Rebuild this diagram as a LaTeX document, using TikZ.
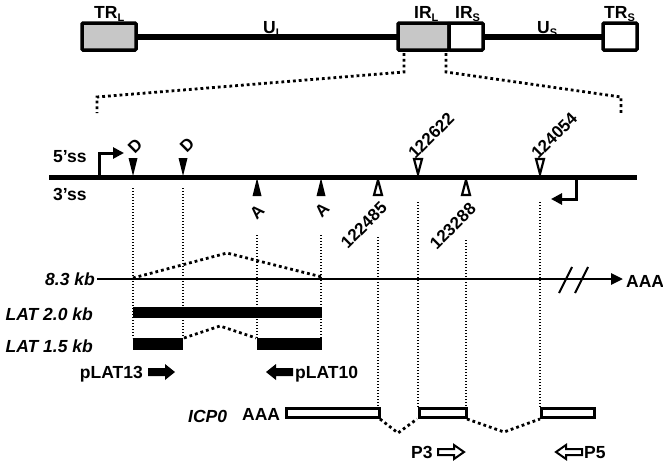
\documentclass[tikz,border=0pt]{standalone}
\usepackage{fontspec}
\setmainfont{Liberation Sans}
\usetikzlibrary{arrows.meta}
\newcommand{\sbl}[1]{\raisebox{-3.5pt}{\fontsize{11}{11}\selectfont #1}}
\begin{document}
\begin{tikzpicture}[x=1pt,y=-1pt,
  lbl/.style={font=\fontsize{17.5}{19}\selectfont\bfseries, inner sep=0pt},
  ilbl/.style={font=\fontsize{17.5}{19}\selectfont\bfseries\itshape, inner sep=0pt},
  rlbl/.style={font=\fontsize{17}{19}\selectfont\bfseries, inner sep=0pt, rotate=45},
  gbox/.style={draw=black, line width=3.5pt, rounded corners=1pt},
  fineDot/.style={line width=1.4pt, dash pattern=on 1.4pt off 1.6pt},
  splice/.style={line width=2.8pt, dash pattern=on 2.8pt off 3pt},
  bracketDot/.style={line width=2.8pt, dash pattern=on 2.8pt off 3pt},
  exonbox/.style={draw=black, fill=white, line width=3pt},
  ftri/.style={fill=black},
  otri/.style={draw=black, fill=white, line width=2.2pt, line join=miter},
  blockArrow/.style={fill=black},
  openArrow/.style={draw=black, fill=white, line width=2pt, line join=miter}]
\useasboundingbox (0,0) rectangle (663,463);

% ---- genome overview ----
\coordinate (ulA) at (136,37);
\coordinate (ulB) at (398,37);
\coordinate (usA) at (483,37);
\coordinate (usB) at (603,37);
\draw[line width=5.5pt] (ulA) -- (ulB);
\draw[line width=5.5pt] (usA) -- (usB);
\draw[gbox, fill=black!22] (82,23) rectangle (136,50);
\draw[gbox, fill=black!22] (398,23) rectangle (449,50);
\draw[gbox, fill=white] (449,23) rectangle (483,50);
\draw[gbox, fill=white] (603,23) rectangle (637,50);
\node[lbl, anchor=base west] (trl) at (94,18) {TR\sbl{L}};
\node[lbl, anchor=base west] (ul) at (263,33) {U\sbl{L}};
\node[lbl, anchor=base west] (irl) at (414,18) {IR\sbl{L}};
\node[lbl, anchor=base west] (irs) at (455,18) {IR\sbl{S}};
\node[lbl, anchor=base west] (us) at (537,33) {U\sbl{S}};
\node[lbl, anchor=base west] (trs) at (604,18) {TR\sbl{S}};

% ---- expansion bracket ----
\draw[bracketDot] (404,53) -- (404,72) -- (97,97) -- (97,113);
\draw[bracketDot] (446,53) -- (446,72) -- (621,97) -- (621,113);

% ---- splice-site map ----
\coordinate (mapL) at (49,177);
\coordinate (mapR) at (637,177);
\draw[line width=5pt] (mapL) -- (mapR);
\node[lbl, anchor=base west] (ss5) at (53,162) {5’ss};
\node[lbl, anchor=base west] (ss3) at (53,200) {3’ss};
% promoters
\draw[line width=3pt, -{Triangle[length=11pt,width=11pt]}] (99,177) -- (99,153) -- (124,153);
\draw[line width=3pt, -{Triangle[length=11pt,width=11pt]}] (576,177) -- (576,199) -- (551,199);
% donors (filled, pointing down)
\fill[ftri] (128.5,158) -- (137.5,158) -- (133,176) -- cycle;
\fill[ftri] (178.5,158) -- (187.5,158) -- (183,176) -- cycle;
\node[rlbl] (d1) at (135,146) {D};
\node[rlbl] (d2) at (187,145) {D};
% acceptors (filled, pointing up)
\fill[ftri] (252.5,196) -- (261.5,196) -- (257,178) -- cycle;
\fill[ftri] (316.5,196) -- (325.5,196) -- (321,178) -- cycle;
\node[rlbl] (a1) at (257,212) {A};
\node[rlbl] (a2) at (322,210) {A};
% open triangles
\draw[otri] (374,195) -- (382,195) -- (378,180) -- cycle;
\draw[otri] (462,195) -- (470,195) -- (466,180) -- cycle;
\draw[otri] (414,159) -- (422,159) -- (418,174) -- cycle;
\draw[otri] (536,159) -- (544,159) -- (540,174) -- cycle;
\node[rlbl, anchor=west] (n122622) at (411,156) {122622};
\node[rlbl, anchor=west] (n124054) at (534,156) {124054};
\node[rlbl, anchor=east] (n122485) at (384,205) {122485};
\node[rlbl, anchor=east] (n123288) at (473,206) {123288};

% ---- dotted projection lines ----
\draw[fineDot] (133,188) -- (133,338);
\draw[fineDot] (183,188) -- (183,338);
\draw[fineDot] (257,235) -- (257,338);
\draw[fineDot] (321,235) -- (321,338);
\draw[fineDot] (378,237) -- (378,407);
\draw[fineDot] (418,202) -- (418,407);
\draw[fineDot] (466,240) -- (466,407);
\draw[fineDot] (540,202) -- (540,407);

% ---- transcripts ----
\coordinate (tA) at (97,279);
\coordinate (tB) at (623,279);
\draw[line width=2.8pt, -{Triangle[length=12pt,width=11pt]}] (tA) -- (tB);
\draw[line width=2pt] (559,293) -- (572,267);
\draw[line width=2pt] (575,293) -- (588,267);
\node[ilbl, anchor=base east] (t83) at (95,285) {8.3 kb};
\node[lbl, anchor=base west] (aaa1) at (626,287) {AAA};
\draw[splice] (133,278) -- (227,253) -- (322,277);

\node[ilbl, anchor=base east] (lat20) at (93,320) {LAT 2.0 kb};
\fill (133,307) rectangle (322,318);
\node[ilbl, anchor=base east] (lat15) at (93,352) {LAT 1.5 kb};
\fill (133,338) rectangle (183,350);
\fill (257,338) rectangle (322,350);
\draw[splice] (184,338) -- (220,326) -- (256,338);

% probes
\node[lbl, anchor=base east] (p13) at (143,378) {pLAT13};
\fill[blockArrow] (148,368) -- (165,368) -- (165,364) -- (175,372) -- (165,380) -- (165,376) -- (148,376) -- cycle;
\fill[blockArrow] (293,368) -- (276,368) -- (276,364) -- (266,372) -- (276,380) -- (276,376) -- (293,376) -- cycle;
\node[lbl, anchor=base west] (p10) at (295,378) {pLAT10};

% ICP0
\node[ilbl, anchor=base west] (icp0) at (188,422) {ICP0};
\node[lbl, anchor=base west] (aaa2) at (242,420) {AAA};
\draw[exonbox] (286,408) rectangle (379,417);
\draw[exonbox] (419,408) rectangle (466,417);
\draw[exonbox] (541,408) rectangle (594,417);
\draw[splice] (380,419) -- (398,433) -- (417,419);
\draw[splice] (467,419) -- (504,432) -- (540,419);

% primers
\node[lbl, anchor=base west] (p3) at (411,458) {P3};
\draw[openArrow] (438,449) -- (454,449) -- (454,445) -- (464,452) -- (454,459) -- (454,455) -- (438,455) -- cycle;
\draw[openArrow] (582,449) -- (566,449) -- (566,445) -- (556,452) -- (566,459) -- (566,455) -- (582,455) -- cycle;
\node[lbl, anchor=base west] (p5) at (584,458) {P5};
\end{tikzpicture}
\end{document}
